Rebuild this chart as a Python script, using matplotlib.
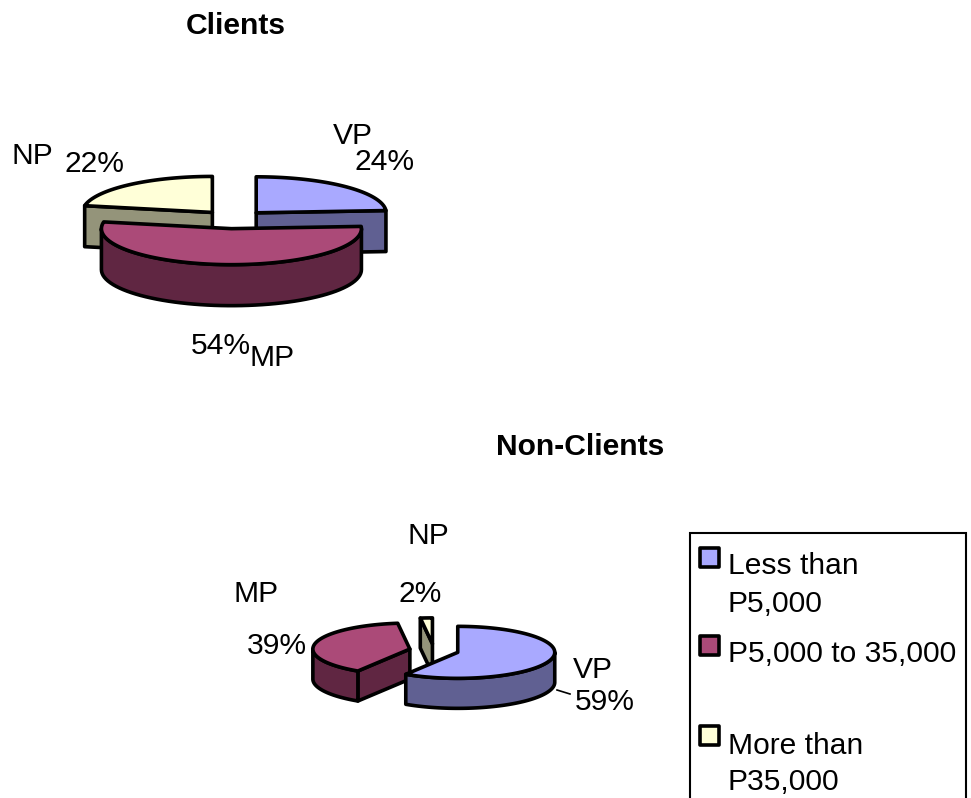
import numpy as np
import matplotlib
matplotlib.use("Agg")
import matplotlib.pyplot as plt
from matplotlib.patches import Polygon, Rectangle

plt.rcParams['font.family'] = ['Liberation Sans', 'DejaVu Sans']

# Data
short_names = ["VP", "MP", "NP"]
legend_lines = [["Less than", "P5,000"], ["P5,000 to 35,000"], ["More than", "P35,000"]]
clients = [24, 54, 22]
non_clients = [59, 39, 2]

top_colors = ["#A9A9FF", "#AB4A78", "#FFFFD8"]
side_colors = ["#606092", "#602642", "#94947A"]

EXPLODE = 0.255
LW = 2.6
FS = 21.6

fig = plt.figure(figsize=(9.71, 7.98), dpi=100)
ax = fig.add_axes([0, 0, 1, 1])
ax.set_xlim(0, 971)
ax.set_ylim(798, 0)
ax.axis("off")


def rim(cx, cy, a, b, angles):
    # angles are degrees clockwise from 12 o'clock
    t = np.radians(angles)
    return np.column_stack([cx + a * np.sin(t), cy - b * np.cos(t)])


def face(pts, color, z):
    ax.add_patch(Polygon(pts, closed=True, facecolor=color, edgecolor="black",
                         linewidth=LW, joinstyle="round", zorder=z))


def pie_3d(values, cx, cy, a, b, depth, order, base_z):
    """Exploded 3D pie, drawn as flat polygons, first slice starts at 12 o'clock."""
    total = sum(values)
    edges = np.concatenate([[0], np.cumsum(values)]) * 360.0 / total
    for n, i in enumerate(order):
        start, end = edges[i], edges[i + 1]
        mid = np.radians((start + end) / 2)
        x0 = cx + EXPLODE * a * np.sin(mid)
        y0 = cy - EXPLODE * b * np.cos(mid)
        z = base_z + n * 3
        drop = np.array([0, depth])
        apex = np.array([x0, y0])

        # flat cut faces that look towards the viewer
        if np.sin(np.radians(start)) < -1e-6:
            p = rim(x0, y0, a, b, [start])[0]
            face([p, apex, apex + drop, p + drop], side_colors[i], z)
        if np.sin(np.radians(end)) > 1e-6:
            p = rim(x0, y0, a, b, [end])[0]
            face([p, apex, apex + drop, p + drop], side_colors[i], z)

        # outer wall, front half only
        lo, hi = max(start, 90), min(end, 270)
        if hi > lo:
            arc = rim(x0, y0, a, b, np.linspace(lo, hi, 60))
            face(np.vstack([arc, (arc + drop)[::-1]]), side_colors[i], z + 1)

        # top of slice
        arc = rim(x0, y0, a, b, np.linspace(start, end, 100))
        face(np.vstack([apex, arc]), top_colors[i], z + 2)


def label(x, y, s, **kw):
    ax.text(x, y + 1.5, s, fontsize=FS, va="center", zorder=30, **kw)


# Clients
pie_3d(clients, 233.5, 219.5, 130, 36, 41, [2, 0, 1], 2)
ax.text(236, 26, "Clients", fontsize=FS, fontweight="bold", ha="center", va="center")
label(11, 155, short_names[2])
label(64, 162, f"{clients[2]}%")
label(333, 135, short_names[0])
label(355, 161, f"{clients[0]}%")
label(191, 344, f"{clients[1]}%")
label(250, 357, short_names[1])

# Non-clients
pie_3d(non_clients, 434, 650.5, 97, 26, 30, [1, 2, 0], 2)
ax.text(580, 447, "Non-Clients", fontsize=FS, fontweight="bold", ha="center", va="center")
label(407, 534, short_names[2])
label(398, 592, f"{non_clients[2]}%")
label(233, 592, short_names[1])
label(247, 645, f"{non_clients[1]}%")
label(573, 668, short_names[0])
label(575, 700, f"{non_clients[0]}%")
ax.plot([557, 570], [690, 694], color="black", lw=1.2, zorder=1)

# Legend, runs off the bottom of the picture
ax.add_patch(Rectangle((690, 533), 276, 280, facecolor="white", edgecolor="black",
                       linewidth=1.5, zorder=20))
marker_y = [548, 636, 726]
text_y = [[565, 603], [653], [745, 780]]
for i in range(3):
    ax.add_patch(Rectangle((699.5, marker_y[i]), 19, 19, facecolor=top_colors[i],
                           edgecolor="black", linewidth=LW, joinstyle="round", zorder=21))
    for line, y in zip(legend_lines[i], text_y[i]):
        label(728, y, line)

plt.savefig("out.png", dpi=100)
